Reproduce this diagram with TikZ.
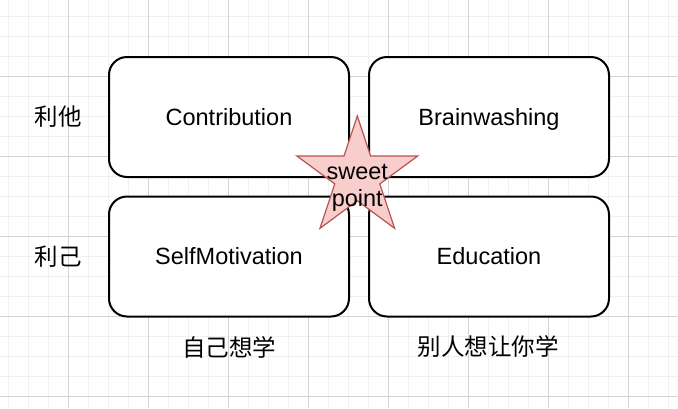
\documentclass[tikz,border=0pt]{standalone}
\usepackage{fontspec}
\setmainfont{Liberation Sans}
\newfontfamily\cjk{Noto Sans CJK SC}
\definecolor{gridminor}{RGB}{240,240,240}
\definecolor{gridmajor}{RGB}{210,210,210}
\definecolor{starfill}{HTML}{F8CECC}
\definecolor{starline}{HTML}{B85450}
\tikzset{
  minorline/.style={draw=gridminor, line width=1pt},
  majorline/.style={draw=gridmajor, line width=1pt},
  quadbox/.style={draw=black, fill=white, line width=2pt, rounded corners=18pt,
    minimum width=240pt, minimum height=120pt, inner sep=0pt,
    text height=16.8pt, text depth=0pt,
    font=\fontsize{23.5}{27}\selectfont},
  lbl/.style={inner sep=0pt, font=\fontsize{23.5}{27}\selectfont\cjk},
  starshape/.style={draw=starline, fill=starfill, line width=1.2pt, line join=miter},
  startext/.style={inner sep=0pt, align=center, font=\fontsize{23.5}{27}\selectfont}
}
\begin{document}
\begin{tikzpicture}[x=1pt,y=-1pt]
\useasboundingbox (0,0) rectangle (678,408);
\fill[white] (0,0) rectangle (678,408);
% grid
\foreach \i in {0,...,33} \draw[minorline] ({8.3+20*\i},0) -- ({8.3+20*\i},408);
\foreach \j in {0,...,19} \draw[minorline] (0,{16+20*\j}) -- (678,{16+20*\j});
\foreach \i in {0,...,7} \draw[majorline] ({68.3+80*\i},0) -- ({68.3+80*\i},408);
\foreach \j in {0,...,4} \draw[majorline] (0,{76+80*\j}) -- (678,{76+80*\j});
% boxes
\node[quadbox] (contrib) at (229,117) {Contribution};
\node[quadbox] (brain) at (489,117) {Brainwashing};
\node[quadbox] (self) at (229,256.5) {SelfMotivation};
\node[quadbox] (edu) at (489,256.5) {Education};
% star
\draw[starshape] (357.3,116) -- (370.6,156) -- (417.7,156) -- (379.8,183.9)
  -- (394.6,228.3) -- (357.3,200.7) -- (320,228.3) -- (334.8,183.9)
  -- (296.9,156) -- (344.0,156) -- cycle;
\node[startext] (sweet) at (357.3,187.5) {sweet\\point};
% labels
\node[lbl] (lita) at (58,116.5) {利他};
\node[lbl] (liji) at (58,256.5) {利己};
\node[lbl] (ziji) at (229,347) {自己想学};
\node[lbl] (bieren) at (488,347) {别人想让你学};
\end{tikzpicture}
\end{document}
